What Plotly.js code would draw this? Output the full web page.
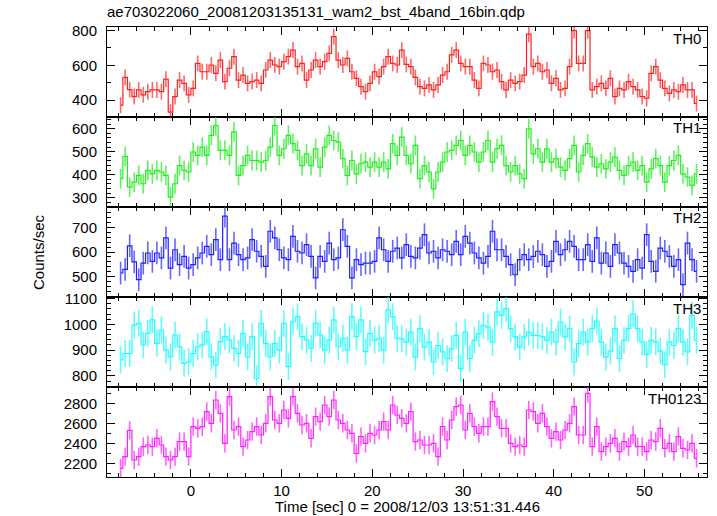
<!DOCTYPE html>
<html><head><meta charset="utf-8">
<script src="https://cdn.plot.ly/plotly-3.0.1.min.js"></script>
<style>html,body{margin:0;padding:0;background:#fff}#c{width:717px;height:516px}</style>
</head><body><div id="c"></div>
<script>
const timeSec = [-7.75,-7.25,-6.75,-6.25,-5.75,-5.25,-4.75,-4.25,-3.75,-3.25,-2.75,-2.25,-1.75,-1.25,-0.75,-0.25,
0.25,0.75,1.25,1.75,2.25,2.75,3.25,3.75,4.25,4.75,5.25,5.75,6.25,6.75,7.25,7.75,
8.25,8.75,9.25,9.75,10.25,10.75,11.25,11.75,12.25,12.75,13.25,13.75,14.25,14.75,15.25,15.75,
16.25,16.75,17.25,17.75,18.25,18.75,19.25,19.75,20.25,20.75,21.25,21.75,22.25,22.75,23.25,23.75,
24.25,24.75,25.25,25.75,26.25,26.75,27.25,27.75,28.25,28.75,29.25,29.75,30.25,30.75,31.25,31.75,
32.25,32.75,33.25,33.75,34.25,34.75,35.25,35.75,36.25,36.75,37.25,37.75,38.25,38.75,39.25,39.75,
40.25,40.75,41.25,41.75,42.25,42.75,43.25,43.75,44.25,44.75,45.25,45.75,46.25,46.75,47.25,47.75,
48.25,48.75,49.25,49.75,50.25,50.75,51.25,51.75,52.25,52.75,53.25,53.75,54.25,54.75,55.25,55.75];

const th0 = [370,530,460,420,458,430,448,458,458,448,520,330,420,515,496,430,467,611,563,563,602,554,630,506,583,650,515,544,496,506,515,496,
573,630,602,592,621,650,688,592,611,515,573,630,592,621,669,765,630,602,640,563,525,477,448,496,563,535,592,650,611,602,688,605,
592,530,477,467,487,458,487,544,563,660,688,611,592,592,515,467,611,602,563,573,506,458,515,496,506,544,780,592,611,563,573,496,
525,458,467,592,800,611,611,800,458,477,496,467,525,420,467,458,506,477,458,420,410,554,592,515,467,438,458,448,487,458,458,380];

const th1 = [383,480,346,368,397,361,419,404,419,412,397,303,361,440,419,412,499,484,520,484,571,614,506,506,484,586,397,440,484,462,462,455,
462,520,614,484,513,571,535,506,440,491,440,513,433,520,571,549,542,470,397,462,404,448,455,433,455,433,455,426,535,484,564,484,
448,528,383,440,412,339,412,455,499,506,528,549,484,528,499,455,499,549,455,513,528,440,412,440,404,383,600,491,513,455,513,455,
470,433,419,470,528,412,484,535,477,433,448,426,455,477,419,397,440,455,419,440,368,426,470,440,368,440,462,484,404,390,354,404];

const th2 = [515,530,625,560,488,555,596,562,596,576,657,535,609,549,582,535,549,576,596,623,589,650,569,745,569,636,589,569,576,650,603,582,
542,684,657,609,576,569,663,603,596,630,582,495,582,562,636,569,576,690,623,495,569,549,555,555,562,657,609,562,603,616,576,630,
582,576,616,670,596,603,576,609,603,589,643,589,663,636,596,576,555,582,684,609,609,582,549,508,569,589,569,582,603,589,542,562,
643,589,609,643,623,569,569,630,562,657,555,596,542,630,596,555,542,522,569,535,670,562,522,616,603,582,542,569,468,636,569,522];

const th3 = [862,887,887,997,1004,920,965,1017,926,978,900,874,959,913,849,855,887,913,920,972,874,842,933,952,939,907,887,965,874,952,790,1004,
926,874,926,900,1004,836,1010,1030,952,939,907,1004,959,900,939,1017,913,946,900,1030,952,1017,894,965,939,946,900,1056,1030,946,944,931,
970,873,983,912,931,854,918,893,867,906,957,828,970,867,938,964,996,990,931,1048,1035,1061,983,951,912,951,970,957,957,951,938,970,
931,1009,951,983,854,925,970,931,983,1013,931,873,896,983,867,938,983,1041,983,931,883,938,931,896,844,931,918,983,931,893,1035,938];

const th0123 = [2150,2267,2530,2233,2267,2367,2383,2367,2450,2383,2267,2233,2267,2417,2417,2267,2567,2550,2567,2717,2600,2833,2700,2400,2867,2533,2567,2367,2433,2517,2567,2483,
2600,2867,2633,2600,2733,2650,2867,2700,2583,2600,2450,2667,2617,2783,2667,2833,2633,2600,2533,2500,2300,2467,2400,2500,2483,2533,2617,2533,2783,2683,2650,2600,
2717,2417,2433,2383,2383,2400,2267,2567,2433,2633,2767,2783,2533,2700,2567,2500,2567,2567,2817,2667,2550,2550,2400,2367,2383,2367,2733,2717,2600,2700,2567,2450,
2517,2433,2533,2600,2767,2483,2483,2900,2367,2567,2317,2367,2400,2450,2317,2417,2367,2483,2367,2367,2317,2433,2417,2550,2350,2400,2317,2467,2350,2333,2400,2250];

const panelNames = ["TH0","TH1","TH2","TH3","TH0123"];
const panelSeries = [th0, th1, th2, th3, th0123];
const panelColors = ["#ff2020","#20f020","#2020ff","#20ffff","#ff20ff"];
const panelErrColors = ["rgba(255,40,40,0.7)","rgba(30,235,30,0.7)","rgba(40,40,255,0.7)","rgba(30,250,250,0.7)","rgba(255,30,255,0.7)"];
const panelErr = [46, 43, 46, 52, 92];
const panelRanges = [[302,821],[260,651],[418,782],[757,1106],[2063,2963]];
const panelDtick = [200,100,100,100,200];
const panelMinor = [100,20,20,20,100];

const FONT = "Liberation Sans, Arial, Helvetica, sans-serif";
const traces = [];
const layout = {
  width: 717, height: 516,
  margin: {l: 107, r: 10, t: 27, b: 39},
  paper_bgcolor: "#fff", plot_bgcolor: "#fff",
  showlegend: false,
  font: {family: FONT, size: 15, color: "#000"},
  title: {text: "ae703022060_20081203135131_wam2_bst_4band_16bin.qdp", x: 0, xref: "paper", xanchor: "left",
          y: 1 - 12/516, yref: "container", yanchor: "middle", font: {family: FONT, size: 15, color: "#000"}},
  annotations: []
};

for (let p = 0; p < 5; p++) {
  const xs = p === 0 ? "x" : "x" + (p + 1);
  const ys = p === 0 ? "y" : "y" + (p + 1);
  const xk = p === 0 ? "xaxis" : "xaxis" + (p + 1);
  const yk = p === 0 ? "yaxis" : "yaxis" + (p + 1);
  traces.push({
    type: "scatter", mode: "lines", x: timeSec, y: panelSeries[p],
    xaxis: xs, yaxis: ys,
    line: {color: panelColors[p], width: 1.2, shape: "hvh"},
    error_y: {type: "constant", value: panelErr[p], color: panelErrColors[p], thickness: 1.6, width: 0},
    hoverinfo: "skip"
  });
  layout[xk] = {
    anchor: ys, domain: [0, 1], range: [-9.25, 56.9],
    showline: true, linecolor: "#000", linewidth: 1, mirror: "allticks",
    ticks: "inside", ticklen: 8, tickcolor: "#000", dtick: 10, tick0: 0,
    minor: {ticks: "inside", ticklen: 4, dtick: 2, tickcolor: "#000"},
    showgrid: false, zeroline: false,
    showticklabels: p === 4,
    tickfont: {family: FONT, size: 15, color: "#000"}
  };
  if (p > 0) layout[xk].matches = "x";
  layout[yk] = {
    anchor: xs, domain: [(4 - p) * 0.2, (5 - p) * 0.2], range: panelRanges[p],
    showline: true, linecolor: "#000", linewidth: 1, mirror: "allticks",
    ticks: "inside", ticklen: 8, tickcolor: "#000", dtick: panelDtick[p], tick0: 0,
    minor: {ticks: "inside", ticklen: 4, dtick: panelMinor[p], tickcolor: "#000"},
    showgrid: false, zeroline: false,
    ticklabelstandoff: 6,
    tickfont: {family: FONT, size: 15, color: "#000"}
  };
  layout.annotations.push({
    text: panelNames[p], xref: "paper", x: 0.994, xanchor: "right",
    yref: ys + " domain", y: 1 - 11/90, yanchor: "middle",
    showarrow: false, font: {family: FONT, size: 15, color: "#000"}
  });
}
layout.annotations.push({
  text: "Counts/sec", xref: "paper", yref: "paper", x: -0.115, y: 0.5,
  textangle: -90, showarrow: false, xanchor: "center", yanchor: "middle",
  font: {family: FONT, size: 15, color: "#000"}
});
layout.annotations.push({
  text: "Time [sec] 0 = 2008/12/03 13:51:31.446", xref: "paper", yref: "paper", x: 0.5, y: -29/450,
  showarrow: false, xanchor: "center", yanchor: "middle",
  font: {family: FONT, size: 15, color: "#000"}
});

Plotly.newPlot("c", traces, layout, {displayModeBar: false, staticPlot: true});
</script></body></html>
